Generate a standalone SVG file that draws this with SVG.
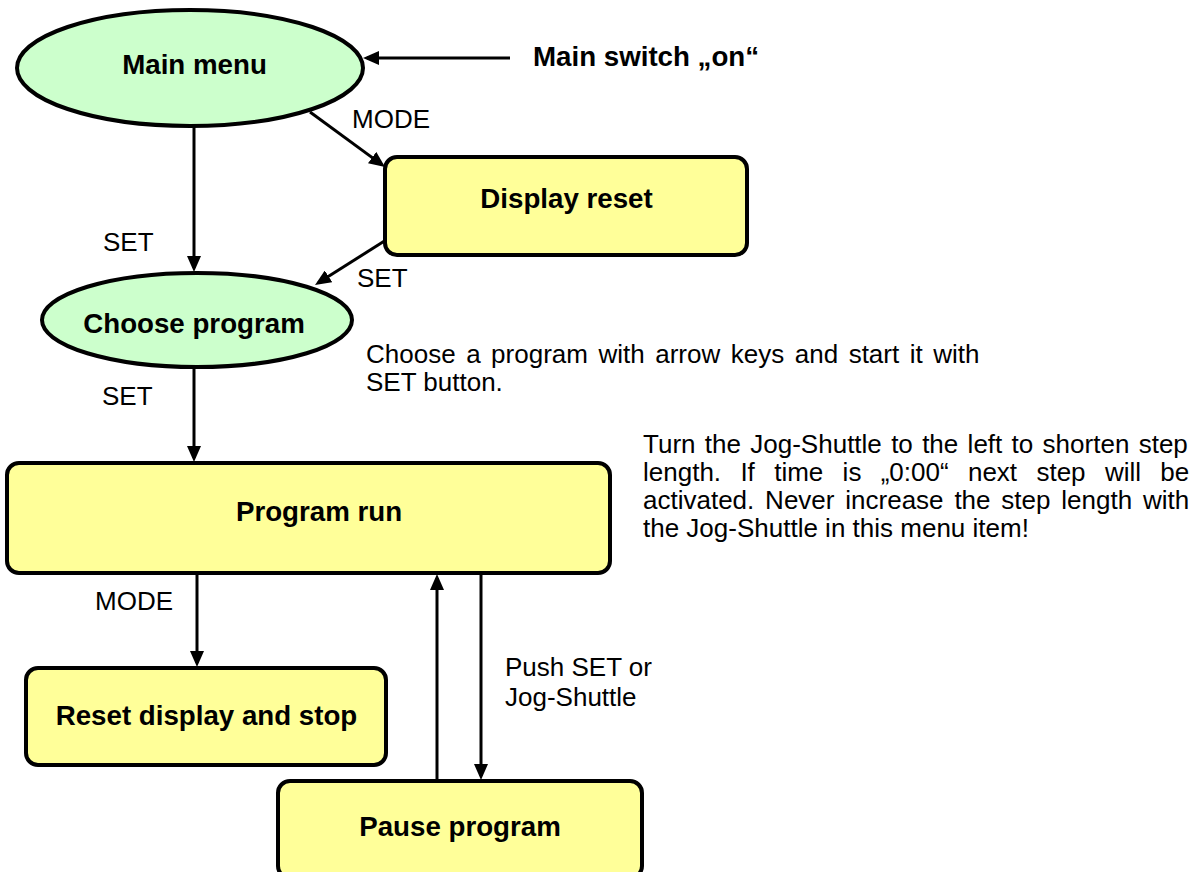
<svg xmlns="http://www.w3.org/2000/svg" width="1195" height="872" viewBox="0 0 1195 872">
  <style>
    text { font-family: "Liberation Sans", Arial, sans-serif; fill: #000; }
    .title { font-size: 27.7px; font-weight: bold; }
    .lbl { font-size: 26px; }
    .state { fill: #CCFFCC; stroke: #000; stroke-width: 4; }
    .box { fill: #FFFF99; stroke: #000; stroke-width: 4; }
    .wire { fill: none; stroke: #000; stroke-width: 3; marker-end: url(#head); }
  </style>
  <defs>
    <marker id="head" markerUnits="userSpaceOnUse" markerWidth="16" markerHeight="14" refX="12" refY="7" orient="auto">
      <path d="M0,0 L16,7 L0,14 Z" fill="#000"/>
    </marker>
  </defs>

  <rect width="1195" height="872" fill="#fff"/>

  <!-- connectors -->
  <g id="connectors">
    <line class="wire" x1="510" y1="58" x2="367" y2="58"/>
    <line class="wire" x1="310" y1="112" x2="381.8" y2="164.6"/>
    <line class="wire" x1="194" y1="127" x2="194" y2="268"/>
    <line class="wire" x1="386" y1="240" x2="318.4" y2="282.8"/>
    <line class="wire" x1="194" y1="367" x2="194" y2="458"/>
    <line class="wire" x1="197" y1="575" x2="197" y2="663"/>
    <line class="wire" x1="437" y1="781" x2="437" y2="578"/>
    <line class="wire" x1="481" y1="575" x2="481" y2="776"/>
  </g>

  <!-- connector labels -->
  <g id="labels" class="lbl">
    <text x="352" y="128">MODE</text>
    <text x="103" y="251">SET</text>
    <text x="357" y="287">SET</text>
    <text x="102" y="405">SET</text>
    <text x="95" y="610">MODE</text>
    <text x="505" y="676">Push SET or</text>
    <text x="505" y="706">Jog-Shuttle</text>
  </g>

  <!-- states -->
  <g id="main-menu">
    <ellipse class="state" cx="190" cy="68" rx="173" ry="58"/>
    <text class="title" x="194.5" y="74" text-anchor="middle">Main menu</text>
  </g>

  <g id="main-switch">
    <text class="title" x="533" y="66">Main switch „on“</text>
  </g>

  <g id="display-reset">
    <rect class="box" x="385" y="157" width="362" height="98" rx="12"/>
    <text class="title" x="566.5" y="208" text-anchor="middle">Display reset</text>
  </g>

  <g id="choose-program">
    <ellipse class="state" cx="197" cy="320" rx="155" ry="47"/>
    <text class="title" x="194" y="333" text-anchor="middle">Choose program</text>
  </g>

  <g id="choose-note" class="lbl">
    <text x="366" y="363" word-spacing="3.3">Choose a program with arrow keys and start it with</text>
    <text x="366" y="391">SET button.</text>
  </g>

  <g id="program-run">
    <rect class="box" x="7" y="463" width="603" height="110" rx="12"/>
    <text class="title" x="319" y="521" text-anchor="middle">Program run</text>
  </g>

  <g id="jog-note" class="lbl">
    <text x="643" y="453" word-spacing="2.1">Turn the Jog-Shuttle to the left to shorten step</text>
    <text x="643" y="481" word-spacing="12.1">length. If time is „0:00“ next step will be</text>
    <text x="643" y="509" word-spacing="3.6">activated. Never increase the step length with</text>
    <text x="643" y="537">the Jog-Shuttle in this menu item!</text>
  </g>

  <g id="reset-stop">
    <rect class="box" x="26" y="668" width="360" height="97" rx="12"/>
    <text class="title" x="206.5" y="725" text-anchor="middle">Reset display and stop</text>
  </g>

  <g id="pause-program">
    <rect class="box" x="278" y="781" width="364" height="97" rx="12"/>
    <text class="title" x="460" y="836" text-anchor="middle">Pause program</text>
  </g>
</svg>
